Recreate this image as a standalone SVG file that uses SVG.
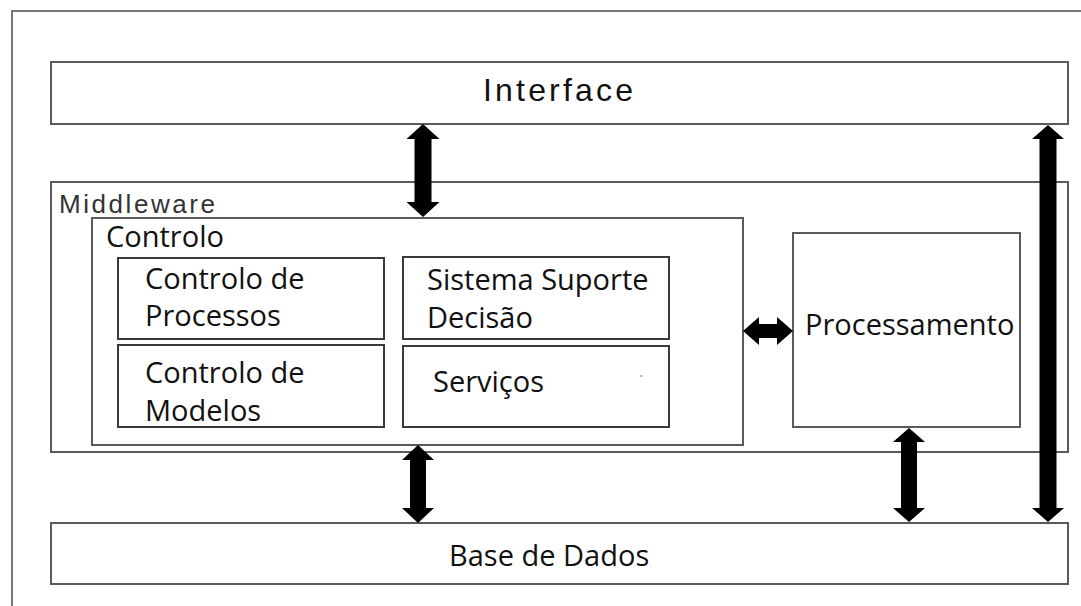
<svg xmlns="http://www.w3.org/2000/svg" width="1081" height="606" viewBox="0 0 1081 606">
<style>
.box{fill:none;stroke:#5a5a5a;stroke-width:2}
.inner{fill:none;stroke:#3a3a3a;stroke-width:2}
.t{font-family:"Open Sans","Noto Sans",sans-serif;font-size:29px;fill:#111}
.a{font-family:"Liberation Sans",Arial,sans-serif;fill:#111}
.arr{fill:#000}
</style>
<rect width="1081" height="606" fill="#fff"/>
<path d="M12,606 V11 H1081" fill="none" stroke="#777" stroke-width="2"/>
<g id="interface">
<rect class="box" x="51" y="62" width="1017" height="62"/>
<text class="a" x="483" y="101" font-size="32" textLength="150" lengthAdjust="spacing">Interface</text>
</g>
<g id="middleware">
<rect class="box" x="51" y="182" width="1017" height="270"/>
<text class="a" x="59" y="213" font-size="26" style="fill:#333" textLength="156" lengthAdjust="spacing">Middleware</text>
</g>
<g id="controlo">
<rect class="box" x="92" y="218" width="651" height="227"/>
<text class="t" x="106" y="247">Controlo</text>
</g>
<g id="controlo-processos">
<rect class="inner" x="118" y="258" width="266" height="81"/>
<text class="t" x="145" y="289">Controlo de</text>
<text class="t" x="145" y="326">Processos</text>
</g>
<g id="controlo-modelos">
<rect class="inner" x="118" y="345" width="266" height="82"/>
<text class="t" x="145" y="383">Controlo de</text>
<text class="t" x="145" y="421">Modelos</text>
</g>
<g id="sistema-suporte-decisao">
<rect class="inner" x="403" y="257" width="266" height="82"/>
<text class="t" x="427" y="290">Sistema Suporte</text>
<text class="t" x="427" y="328">Decisão</text>
</g>
<g id="servicos">
<rect class="inner" x="403" y="346" width="266" height="81"/>
<text class="t" x="433" y="392">Serviços</text>
<circle cx="641" cy="376" r="0.8" fill="#555"/>
</g>
<g id="processamento">
<rect class="box" x="793" y="233" width="227" height="194"/>
<text class="t" x="805" y="335">Processamento</text>
</g>
<g id="base-de-dados">
<rect class="box" x="51" y="523" width="1017" height="61"/>
<text class="t" x="449" y="566">Base de Dados</text>
</g>
<g id="connectors">
<polygon class="arr" points="423,124 439.5,139 431.5,139 431.5,202 439.5,202 423,217 406.5,202 414.5,202 414.5,139 406.5,139"/>
<polygon class="arr" points="418,445 434,460 426,460 426,508 434,508 418,523 402,508 410,508 410,460 402,460"/>
<polygon class="arr" points="909,428 925,442 917,442 917,508 925,508 909,522 893,508 901,508 901,442 893,442"/>
<polygon class="arr" points="1048,125 1064,139 1056.5,139 1056.5,508 1064,508 1048,522 1032,508 1039.5,508 1039.5,139 1032,139"/>
<polygon class="arr" points="743,331 759,317 759,324 777,324 777,317 793,331 777,345 777,338 759,338 759,345"/>
</g>
</svg>
